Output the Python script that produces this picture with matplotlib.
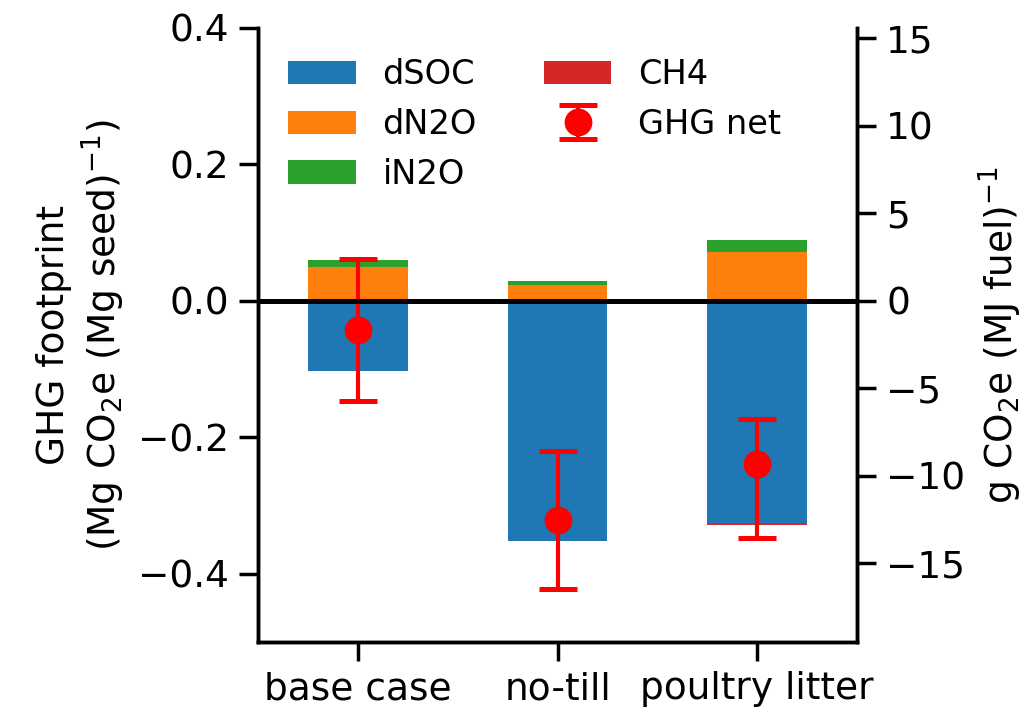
import numpy as np
import matplotlib
matplotlib.use("Agg")
import matplotlib.pyplot as plt

# data (Mg CO2e per Mg seed)
cases = ["base case", "no-till", "poultry litter"]
dsoc = [-0.1025, -0.352, -0.326]
dn2o = [0.049, 0.024, 0.071]
in2o = [0.011, 0.0055, 0.018]
ch4 = [0.0, 0.0, -0.002]
ghg_net = [-0.042, -0.321, -0.239]
err_low = [0.104, 0.102, 0.108]
err_high = [0.103, 0.101, 0.066]

# conversion to g CO2e per MJ fuel
factor = 39.0

plt.rcParams["font.family"] = "DejaVu Sans"
plt.rcParams["font.size"] = 13.5
plt.rcParams["axes.linewidth"] = 1.25

fig = plt.figure(figsize=(5.13, 3.57), dpi=200)
ax = fig.add_axes([0.2515, 0.1008, 0.5838, 0.86])

x = np.arange(len(cases))
w = 0.5

ax.bar(x, dsoc, w, color="tab:blue", label="dSOC")
ax.bar(x, dn2o, w, color="tab:orange", label="dN2O")
ax.bar(x, in2o, w, bottom=dn2o, color="tab:green", label="iN2O")
ax.bar(x, ch4, w, bottom=dsoc, color="tab:red", label="CH4")
ax.errorbar(x, ghg_net, yerr=[err_low, err_high], fmt="o", color="red",
            markersize=9, elinewidth=1.5, capsize=7, capthick=1.8,
            label="GHG net")
ax.axhline(0, color="black", lw=1.8, zorder=5)

ax.set_xlim(-0.5, 2.5)
ax.set_ylim(-0.5, 0.4)
ax.set_yticks([-0.4, -0.2, 0.0, 0.2, 0.4])
ax.set_xticks(x)
ax.set_xticklabels(cases)
ax.tick_params(length=7, width=1.25)
ax.set_ylabel("GHG footprint\n(Mg CO$_2$e (Mg seed)$^{-1}$)")
ax.spines["top"].set_visible(False)

ax2 = ax.twinx()
lo, hi = ax.get_ylim()
ax2.set_ylim(lo * factor, hi * factor)
ax2.set_yticks([-15, -10, -5, 0, 5, 10, 15])
ax2.tick_params(length=7, width=1.25)
ax2.set_ylabel("g CO$_2$e (MJ fuel)$^{-1}$")
ax2.spines["top"].set_visible(False)

ax.legend(ncol=2, loc="upper left", frameon=False, fontsize=12.1)

fig.savefig("out.png", dpi=200)
